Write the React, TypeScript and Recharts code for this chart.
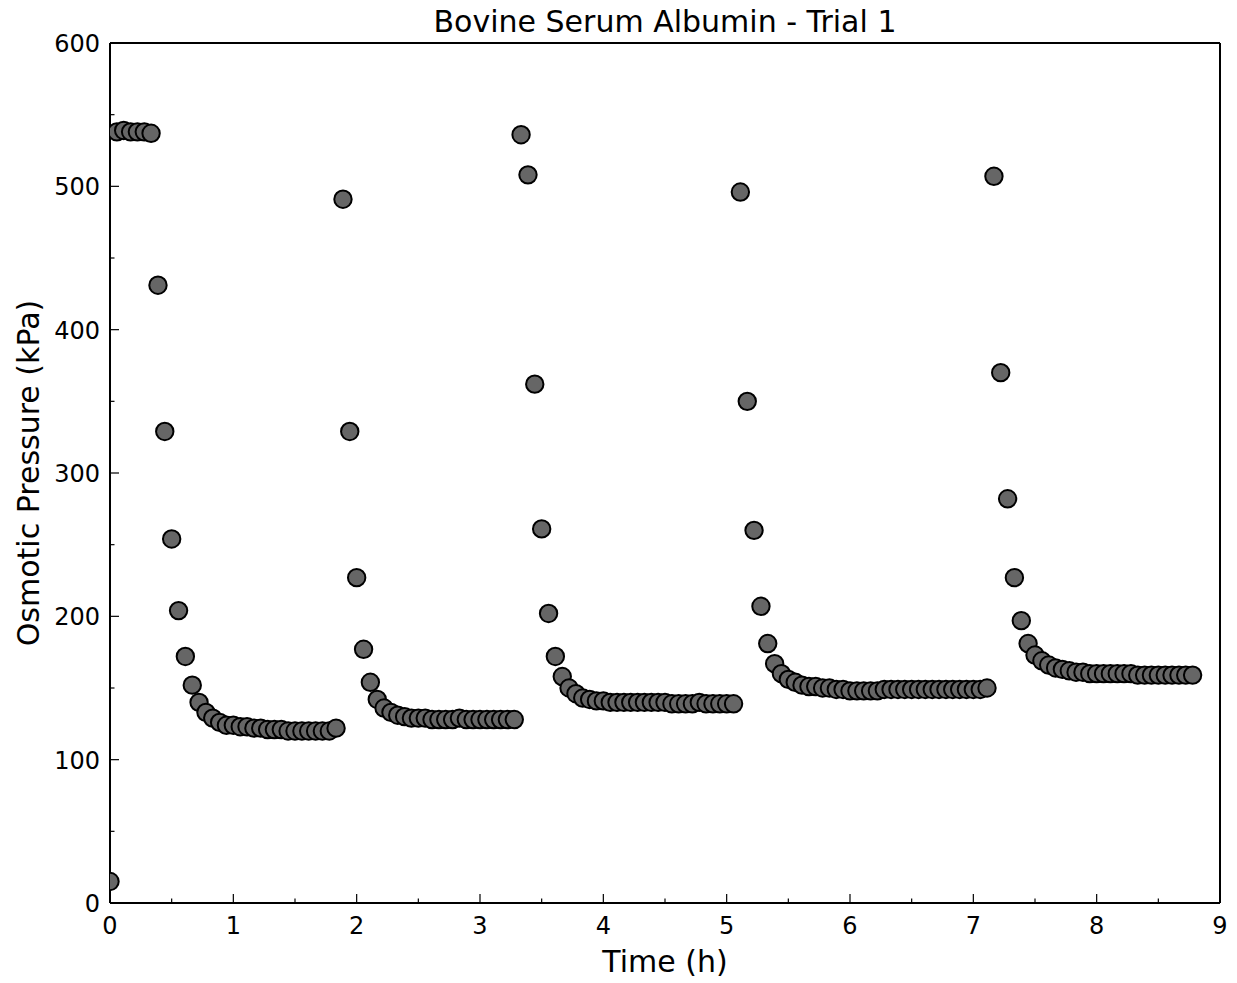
import React from "react";
import { ScatterChart, Scatter, XAxis, YAxis, ReferenceLine, Label } from "recharts";

// Sampling times (h)
const timeHours: number[] = [
  0, 0.056, 0.111, 0.167, 0.222, 0.278, 0.333, 0.389, 0.444, 0.5,
  0.556, 0.611, 0.667, 0.722, 0.778, 0.833, 0.889, 0.944, 1.0, 1.056,
  1.111, 1.167, 1.222, 1.278, 1.333, 1.389, 1.444, 1.5, 1.556, 1.611,
  1.667, 1.722, 1.778, 1.833, 1.889, 1.944, 2.0, 2.056, 2.111, 2.167,
  2.222, 2.278, 2.333, 2.389, 2.444, 2.5, 2.556, 2.611, 2.667, 2.722,
  2.778, 2.833, 2.889, 2.944, 3.0, 3.056, 3.111, 3.167, 3.222, 3.278,
  3.333, 3.389, 3.444, 3.5, 3.556, 3.611, 3.667, 3.722, 3.778, 3.833,
  3.889, 3.944, 4.0, 4.056, 4.111, 4.167, 4.222, 4.278, 4.333, 4.389,
  4.444, 4.5, 4.556, 4.611, 4.667, 4.722, 4.778, 4.833, 4.889, 4.944,
  5.0, 5.056, 5.111, 5.167, 5.222, 5.278, 5.333, 5.389, 5.444, 5.5,
  5.556, 5.611, 5.667, 5.722, 5.778, 5.833, 5.889, 5.944, 6.0, 6.056,
  6.111, 6.167, 6.222, 6.278, 6.333, 6.389, 6.444, 6.5, 6.556, 6.611,
  6.667, 6.722, 6.778, 6.833, 6.889, 6.944, 7.0, 7.056, 7.111, 7.167,
  7.222, 7.278, 7.333, 7.389, 7.444, 7.5, 7.556, 7.611, 7.667, 7.722,
  7.778, 7.833, 7.889, 7.944, 8.0, 8.056, 8.111, 8.167, 8.222, 8.278,
  8.333, 8.389, 8.444, 8.5, 8.556, 8.611, 8.667, 8.722, 8.778,
];

// Osmotic pressure (kPa), one array per addition
const run1: number[] = [
  15, 538, 539, 538, 538, 538, 537, 431, 329, 254, 204, 172, 152, 140, 133, 129, 126,
  124, 124, 123, 123, 122, 122, 121, 121, 121, 120, 120, 120, 120, 120, 120, 120, 122,
];
const run2: number[] = [
  491, 329, 227, 177, 154, 142, 136, 133, 131, 130, 129, 129, 129, 128, 128, 128, 128,
  129, 128, 128, 128, 128, 128, 128, 128, 128,
];
const run3: number[] = [
  536, 508, 362, 261, 202, 172, 158, 150, 146, 143, 142, 141, 141, 140, 140, 140, 140,
  140, 140, 140, 140, 140, 139, 139, 139, 139, 140, 139, 139, 139, 139, 139,
];
const run4: number[] = [
  496, 350, 260, 207, 181, 167, 160, 156, 154, 152, 151, 151, 150, 150, 149, 149, 148,
  148, 148, 148, 148, 149, 149, 149, 149, 149, 149, 149, 149, 149, 149, 149, 149, 149,
  149, 149, 150,
];
const run5: number[] = [
  507, 370, 282, 227, 197, 181, 173, 169, 166, 164, 163, 162, 161, 161, 160, 160, 160,
  160, 160, 160, 160, 159, 159, 159, 159, 159, 159, 159, 159, 159,
];

const xTicks: number[] = [0, 0.5, 1, 1.5, 2, 2.5, 3, 3.5, 4, 4.5, 5, 5.5, 6, 6.5, 7, 7.5, 8, 8.5, 9];
const yTicks: number[] = [0, 50, 100, 150, 200, 250, 300, 350, 400, 450, 500, 550, 600];

const pressure = [...run1, ...run2, ...run3, ...run4, ...run5];
const data = timeHours.map((t, i) => ({ t, p: pressure[i] }));

const FONT = "'DejaVu Sans', sans-serif";

// plot frame (layout only)
const PLOT = { left: 110, top: 43, width: 1110, height: 860 };

const XTick = (props: any) => {
  const { x, y, payload } = props;
  const major = Number.isInteger(payload.value);
  return (
    <g>
      <line x1={x} y1={y} x2={x} y2={y - (major ? 9 : 4.5)} stroke="#000" strokeWidth={1.2} />
      {major && (
        <text x={x} y={y + 31} textAnchor="middle" fontSize={24} fontFamily={FONT} fill="#000">
          {payload.value}
        </text>
      )}
    </g>
  );
};

const YTick = (props: any) => {
  const { x, y, payload } = props;
  const major = payload.value % 100 === 0;
  return (
    <g>
      <line x1={x} y1={y} x2={x + (major ? 9 : 4.5)} y2={y} stroke="#000" strokeWidth={1.2} />
      {major && (
        <text x={x - 10} y={y + 9} textAnchor="end" fontSize={24} fontFamily={FONT} fill="#000">
          {payload.value}
        </text>
      )}
    </g>
  );
};

const Dot = (props: any) => (
  <g>
    {props.index === 0 && (
      <defs>
        <clipPath id="plotAreaClip">
          <rect x={PLOT.left} y={PLOT.top} width={PLOT.width} height={PLOT.height} />
        </clipPath>
      </defs>
    )}
    <circle
      cx={props.cx}
      cy={props.cy}
      r={8.7}
      fill="#666666"
      stroke="#000"
      strokeWidth={2}
      clipPath="url(#plotAreaClip)"
    />
  </g>
);

export default function App() {
  return (
    <div
      style={{
        position: "absolute",
        left: 0,
        top: 0,
        width: 1237,
        height: 983,
        background: "#fff",
        fontFamily: FONT,
      }}
    >
      <div
        style={{
          position: "absolute",
          left: 110,
          width: 1110,
          top: 3,
          textAlign: "center",
          fontSize: 30,
          lineHeight: "38px",
          color: "#000",
        }}
      >
        Bovine Serum Albumin - Trial 1
      </div>
      <ScatterChart width={1237} height={983} margin={{ top: 43, right: 17, bottom: 0, left: 50 }}>
        <XAxis
          dataKey="t"
          type="number"
          domain={[0, 9]}
          ticks={xTicks}
          allowDataOverflow
          height={80}
          tickSize={0}
          tickMargin={0}
          tickLine={false}
          axisLine={{ stroke: "#000", strokeWidth: 2 }}
          tick={(p: any) => <XTick {...p} />}
          interval={0}
        >
          <Label
            content={(p: any) => {
              const vb = p.viewBox || {};
              return (
                <text
                  x={vb.x + vb.width / 2}
                  y={972}
                  textAnchor="middle"
                  fontSize={30}
                  fontFamily={FONT}
                  fill="#000"
                >
                  Time (h)
                </text>
              );
            }}
          />
        </XAxis>
        <YAxis
          dataKey="p"
          type="number"
          domain={[0, 600]}
          ticks={yTicks}
          allowDataOverflow
          width={60}
          tickSize={0}
          tickMargin={0}
          tickLine={false}
          axisLine={{ stroke: "#000", strokeWidth: 2 }}
          tick={(p: any) => <YTick {...p} />}
          interval={0}
        >
          <Label
            content={(p: any) => {
              const vb = p.viewBox || {};
              const cy = vb.y + vb.height / 2;
              return (
                <text
                  x={28}
                  y={cy}
                  transform={`rotate(-90 28 ${cy})`}
                  textAnchor="middle"
                  dominantBaseline="central"
                  fontSize={30}
                  fontFamily={FONT}
                  fill="#000"
                >
                  Osmotic Pressure (kPa)
                </text>
              );
            }}
          />
        </YAxis>
        <ReferenceLine y={600} stroke="#000" strokeWidth={2} />
        <ReferenceLine x={9} stroke="#000" strokeWidth={2} />
        <Scatter data={data} isAnimationActive={false} shape={(p: any) => <Dot {...p} />} />
      </ScatterChart>
    </div>
  );
}
